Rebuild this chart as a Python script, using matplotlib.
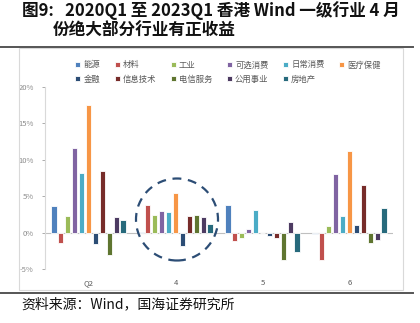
import matplotlib.pyplot as plt
import numpy as np
from matplotlib.patches import Ellipse

plt.rcParams['font.family'] = ['Noto Sans CJK SC', 'DejaVu Sans']

categories = ["Q2", "4", "5", "6"]
industries = ["能源", "材料", "工业", "可选消费", "日常消费", "医疗保健",
              "金融", "信息技术", "电信服务", "公用事业", "房地产"]
colors = ["#4F81BD", "#C0504D", "#9BBB59", "#8064A2", "#4BACC6", "#F79646",
          "#2C4D75", "#772C2A", "#5F7530", "#4D3B62", "#276A7C"]

# monthly returns (%) per industry, one value per category
energy = [3.65, 0.05, 3.8, -0.15]
materials = [-1.4, 3.85, -1.2, -3.75]
industrials = [2.25, 2.35, -0.8, 0.9]
cons_disc = [11.65, 2.95, 0.45, 8.0]
cons_staples = [8.15, 2.85, 3.05, 2.25]
healthcare = [17.5, 5.4, 0.0, 11.15]
financials = [-1.5, -1.85, -0.45, 1.05]
info_tech = [8.5, 2.25, -0.75, 6.5]
telecom = [-3.1, 2.35, -3.7, -1.4]
utilities = [2.2, 2.15, 1.4, -1.05]
real_estate = [1.75, 1.2, -2.7, 3.35]

series = [energy, materials, industrials, cons_disc, cons_staples, healthcare,
          financials, info_tech, telecom, utilities, real_estate]

fig = plt.figure(figsize=(4.2, 3.23), dpi=100)
W, H = 420, 323


def fx(px):
    return px / W


def fy(py):
    return 1 - py / H


# title
fig.text(fx(22), fy(11), "图9:   2020Q1 至 2023Q1 香港 Wind 一级行业 4 月",
         fontsize=12, fontweight="bold", va="center", ha="left", color="#111111")
fig.text(fx(53), fy(31), "份绝大部分行业有正收益",
         fontsize=12, fontweight="bold", va="center", ha="left", color="#111111")

# separator lines
fig.add_artist(plt.Line2D([0, fx(413)], [fy(47), fy(47)], color="#555555", lw=1.4))
fig.add_artist(plt.Line2D([0, fx(413)], [fy(293), fy(293)], color="#555555", lw=1.4))

# chart frame
fig.add_artist(plt.Rectangle((fx(19), fy(290)), fx(403) - fx(19), fy(48) - fy(290),
                             fill=False, edgecolor="#d9d9d9", lw=0.8))

fig.text(fx(21), fy(304), "资料来源：Wind，国海证券研究所", fontsize=10,
         va="center", ha="left", color="#111111")

ax = fig.add_axes([fx(45), fy(269), fx(393) - fx(45), fy(87) - fy(269)])

n = len(series)
x = np.arange(len(categories))
slot = 0.08
bw = 0.065
for i, (name, vals, c) in enumerate(zip(industries, series, colors)):
    offs = (i - (n - 1) / 2) * slot
    ax.bar(x + offs, vals, width=bw, color=c, edgecolor="white", linewidth=0.6,
           label=name, zorder=2)

ax.set_xlim(-0.5, len(categories) - 0.5)
ax.set_ylim(-5, 20)
ax.set_yticks([-5, 0, 5, 10, 15, 20])
ax.set_yticklabels(["-5%", "0%", "5%", "10%", "15%", "20%"])
ax.set_xticks(x)
ax.set_xticklabels(categories)
ax.axhline(0, color="#bfbfbf", lw=0.8, zorder=1)
ax.tick_params(axis="y", labelsize=5.5, colors="#8c8c8c", length=2, width=0.5, pad=6)
ax.tick_params(axis="x", labelsize=5.5, colors="#595959", length=0, pad=7)
for s in ["top", "right", "bottom"]:
    ax.spines[s].set_visible(False)
ax.spines["left"].set_color("#d9d9d9")
ax.spines["left"].set_linewidth(0.8)

# dashed circle around group "4"
circ = Ellipse((fx(177), fy(219.5)), fx(82), 82 / H, transform=fig.transFigure,
               fill=False, edgecolor="#2C4D75", lw=1.6, linestyle=(0, (4, 3)))
fig.add_artist(circ)

handles, labels = ax.get_legend_handles_labels()
order = [0, 6, 1, 7, 2, 8, 3, 9, 4, 10, 5]
fig.legend([handles[k] for k in order], [labels[k] for k in order],
           ncol=6, loc="center", bbox_to_anchor=(fx(228), fy(72)),
           frameon=False, fontsize=6, handlelength=0.6, handleheight=0.6,
           handletextpad=0.4, columnspacing=1.7, labelspacing=0.6,
           labelcolor="#595959")

fig.savefig("out.png", dpi=100)
